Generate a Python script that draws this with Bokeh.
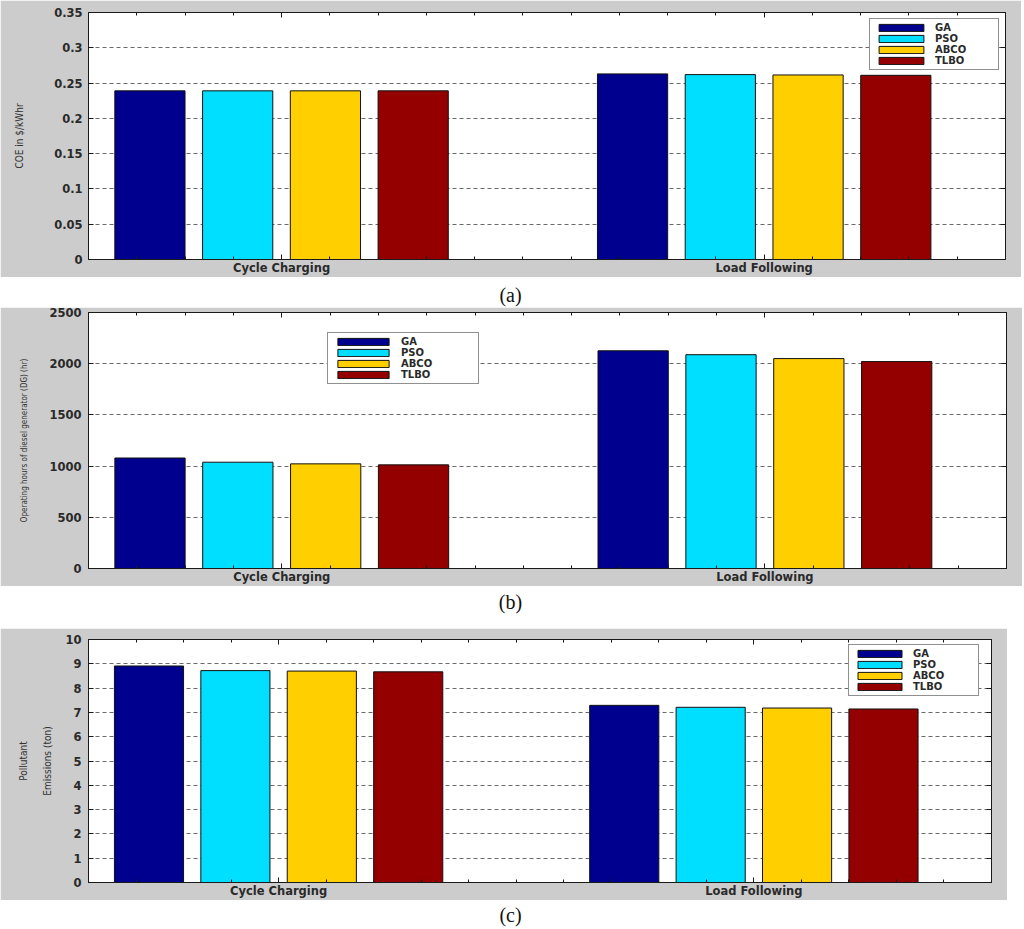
from bokeh.plotting import figure
from bokeh.models import (LinearAxis, FixedTicker, Div, Legend, LegendItem, Range1d,
                          CustomLabelingPolicy)
from bokeh.layouts import column
from bokeh.embed import file_html
from bokeh.resources import INLINE

# ---- data -----------------------------------------------------------
categories = ["Cycle Charging", "Load Following"]
methods = ["GA", "PSO", "ABCO", "TLBO"]
colors = ["#00008F", "#00DFFF", "#FFCF00", "#940000"]

coe_cycle = [0.239, 0.239, 0.239, 0.239]
coe_load = [0.263, 0.262, 0.2615, 0.261]
hours_cycle = [1079, 1038, 1022, 1012]
hours_load = [2126, 2088, 2050, 2021]
emis_cycle = [8.91, 8.72, 8.70, 8.67]
emis_load = [7.29, 7.21, 7.18, 7.14]

coe_ticks = [0, 0.05, 0.1, 0.15, 0.2, 0.25, 0.3, 0.35]
coe_tick_labels = ["0", "0.05", "0.1", "0.15", "0.2", "0.25", "0.3", "0.35"]
hours_ticks = [0, 500, 1000, 1500, 2000, 2500]
hours_tick_labels = ["0", "500", "1000", "1500", "2000", "2500"]
emis_ticks = [0, 1, 2, 3, 4, 5, 6, 7, 8, 9, 10]
emis_tick_labels = ["0", "1", "2", "3", "4", "5", "6", "7", "8", "9", "10"]

captions = ["(a)", "(b)", "(c)"]

# grouped-bar geometry (MATLAB style)
n = len(methods)
group_width = min(0.8, n / (n + 1.5))
bar_w = group_width / n * 0.8
offsets = [(i - (n - 1) / 2) * group_width / n for i in range(n)]
minor_x = [round(0.6 + 0.1 * i, 2) for i in range(20)]
minor_x = [t for t in minor_x if t not in (1.0, 2.0)]

DARK = "#1a1a1a"
TXT = "#2a2a2a"
LABEL_FONT = "DejaVu Sans Condensed, Liberation Sans, sans-serif"
LEFT, RIGHT = 88, 16

HIDE_CODE = """
try { for (const i of Array.from(indices)) { indices.unset(i) } } catch (e) {}
return indices
"""


def style_axis(ax, labels=True):
    ax.major_tick_in = 5
    ax.major_tick_out = 0
    ax.minor_tick_in = 3
    ax.minor_tick_out = 0
    ax.axis_line_color = DARK
    ax.major_tick_line_color = DARK
    ax.minor_tick_line_color = DARK
    if labels:
        ax.major_label_text_font = "DejaVu Sans"
        ax.major_label_text_font_style = "bold"
        ax.major_label_text_font_size = "11.5px"
        ax.major_label_text_color = TXT
    else:
        ax.major_label_text_font_size = "1px"
        ax.major_label_standoff = 0
        ax.major_label_policy = CustomLabelingPolicy(code=HIDE_CODE)


def make_panel(width, height, top, bottom, y_end, yticks, ylabels, ylabel,
               ylabel_size, ylabel_standoff, ylabel_lh, tick_standoff, cyc, load,
               legend_loc, glyph_w, label_w):
    p = figure(width=width, height=height,
               x_range=Range1d(0.6, 2.5), y_range=Range1d(0, y_end),
               output_backend="svg", toolbar_location=None,
               min_border_left=LEFT, min_border_right=RIGHT,
               min_border_top=top, min_border_bottom=bottom,
               border_fill_color="#cccccc", background_fill_color="white",
               outline_line_color=DARK, margin=0)
    items = []
    for i, m in enumerate(methods):
        xs = [k + 1 + offsets[i] for k in range(len(categories))]
        r = p.vbar(x=xs, top=[cyc[i], load[i]], bottom=0, width=bar_w,
                   fill_color=colors[i], line_color="#111111", line_width=1)
        items.append(LegendItem(label=m, renderers=[r]))

    p.xgrid.visible = False
    p.ygrid.grid_line_color = "#6a6a6a"
    p.ygrid.grid_line_dash = "4 3"
    p.ygrid.grid_line_width = 1

    xa = p.xaxis[0]
    xa.ticker = FixedTicker(ticks=[1, 2], minor_ticks=minor_x)
    xa.major_label_overrides = {k + 1: c for k, c in enumerate(categories)}
    xa.major_label_standoff = 1
    style_axis(xa)

    ya = p.yaxis[0]
    ya.ticker = FixedTicker(ticks=yticks)
    ya.major_label_overrides = {t: s for t, s in zip(yticks, ylabels)}
    ya.major_label_standoff = tick_standoff
    ya.axis_label = ylabel
    ya.axis_label_text_font = LABEL_FONT
    ya.axis_label_text_font_style = "normal"
    ya.axis_label_text_font_size = ylabel_size
    ya.axis_label_text_color = "#333333"
    ya.axis_label_text_line_height = ylabel_lh
    ya.axis_label_standoff = ylabel_standoff
    style_axis(ya)

    top_ax = LinearAxis(ticker=FixedTicker(ticks=[1, 2], minor_ticks=minor_x))
    style_axis(top_ax, labels=False)
    p.add_layout(top_ax, "above")
    right_ax = LinearAxis(ticker=FixedTicker(ticks=yticks))
    style_axis(right_ax, labels=False)
    p.add_layout(right_ax, "right")

    legend = Legend(items=items, location=legend_loc,
                    glyph_width=glyph_w, glyph_height=9, label_height=9,
                    label_width=label_w, spacing=0, padding=3, margin=6,
                    label_standoff=6, border_line_color="#222222",
                    border_line_width=1, background_fill_color="white",
                    background_fill_alpha=1.0,
                    label_text_font="DejaVu Sans",
                    label_text_font_style="bold",
                    label_text_font_size="10px",
                    label_text_color=TXT)
    p.add_layout(legend)
    return p


def caption(text, width, height, pad):
    return Div(text='<div style="text-align:center;font-family:\'Liberation Serif\';'
                    'font-size:20px;color:#111;padding-top:%dpx;width:%dpx;">%s</div>'
                    % (pad, width, text),
               width=width, height=height, margin=0,
               styles={"text-align": "center"})


pa = make_panel(1021, 277, 12, 15, 0.35, coe_ticks, coe_tick_labels,
                "COE in $/kWhr", "10px", 26, 1.2, 6, coe_cycle, coe_load,
                "top_right", 56, 60)
pb = make_panel(1022, 279, 5, 13, 2500, hours_ticks, hours_tick_labels,
                "Operating hours of diesel generator (DG) (hr)", "8px", 17, 1.2, 7,
                hours_cycle, hours_load, (239, 184), 64, 74)
pc = make_panel(1007, 272, 11, 15, 10, emis_ticks, emis_tick_labels,
                "Pollutant\nEmissions (ton)", "10px", 9, 2.2, 7,
                emis_cycle, emis_load, (760, 186), 55, 62)

layout = column(pa, caption(captions[0], 1021, 30, 4),
                pb, caption(captions[1], 1021, 42, 2),
                pc, caption(captions[2], 1021, 26, 1),
                margin=0, spacing=0)

open("out.html", "w").write(file_html(layout, INLINE))
